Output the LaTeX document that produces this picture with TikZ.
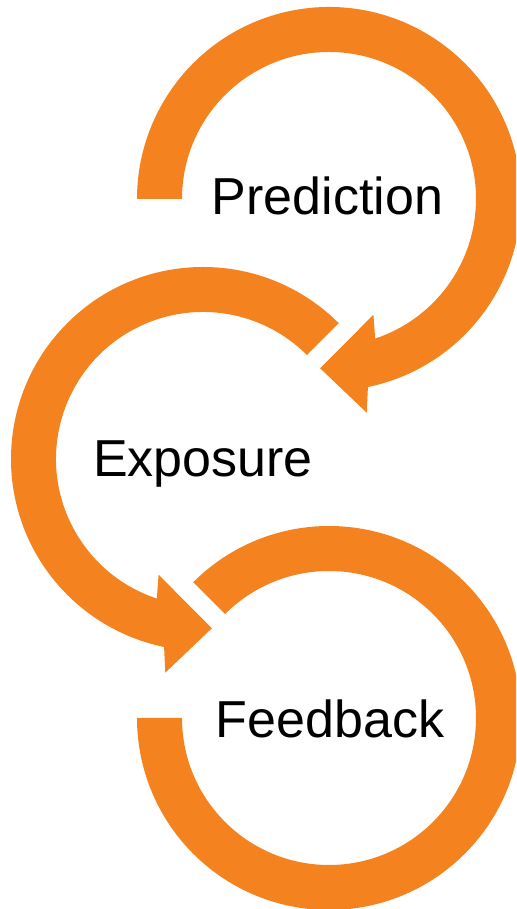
\documentclass[tikz,border=0pt]{standalone}
\usepackage{fontspec}
\setmainfont{Liberation Sans}
\usetikzlibrary{positioning}
\definecolor{cycleorange}{RGB}{244,130,31}

\begin{document}
\begin{tikzpicture}[x=1pt,y=1pt,
  ring/.style={fill=cycleorange,draw=none},
  word/.style={font=\fontsize{52}{60}\selectfont,inner sep=0pt,anchor=base}]

    % The frame
	\useasboundingbox (0,0) rectangle (516,909);
	\clip (0,0) rectangle (516,909);

    % Centres of the rings
	\coordinate (c1) at (329,710);
	\coordinate (c2) at (203,450);
	\coordinate (c3) at (329,191);

    % Ring arrows
	\begin{scope}[shift={(c1)}]
	\fill[ring] (180:192) -- (180:147) arc[start angle=180,end angle=-71.7,radius=147]
	  -- (-69:124) -- (-93:169.5) -- (-80:217) -- (-78.3:192)
	  arc[start angle=-78.3,end angle=180,radius=192] -- cycle;
	\end{scope}
	\begin{scope}[shift={(c2)}]
	\fill[ring] (45:147) -- (45:192) arc[start angle=45,end angle=258.3,radius=192]
	  -- (260:217) -- (273:169.5) -- (249:124) -- (251.7:147)
	  arc[start angle=251.7,end angle=45,radius=147] -- cycle;
	\end{scope}
	\begin{scope}[shift={(c3)}]
	\fill[ring] (135:147) -- (135:192) arc[start angle=135,end angle=-180,radius=192]
	  -- (-180:147) arc[start angle=-180,end angle=135,radius=147] -- cycle;
	\end{scope}

    % Labels
	\node [word] (pred) at (327.5,694) {Prediction};
	\node [word] (expo) at (203,432) {Exposure};
	\node [word] (feed) at (330,171) {Feedback};

\end{tikzpicture}
\end{document}
